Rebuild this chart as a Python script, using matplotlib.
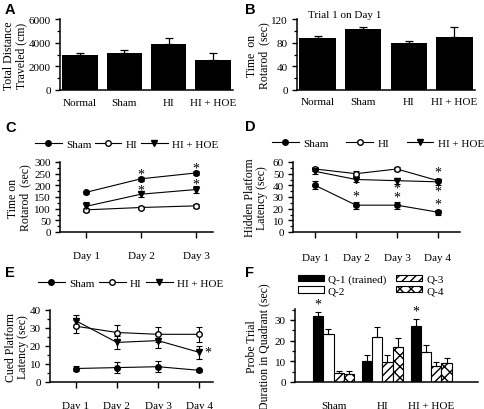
import matplotlib
matplotlib.use('Agg')
import matplotlib.pyplot as plt
from matplotlib.ticker import MultipleLocator
from matplotlib.lines import Line2D
import numpy as np

plt.rcParams['font.family'] = ['Liberation Serif', 'DejaVu Serif']
plt.rcParams['font.size'] = 8

# ---- data ----
groups_ab = ['Normal', 'Sham', 'HI', 'HI + HOE']
dist_mean = [3000, 3150, 3900, 2550]
dist_err = [100, 200, 500, 550]
trial1_mean = [88, 103, 79, 90]
trial1_err = [3, 3, 4, 17]

days3 = ['Day 1', 'Day 2', 'Day 3']
rot_sham = [170, 228, 253]
rot_sham_err = [6, 8, 8]
rot_hi = [95, 105, 112]
rot_hi_err = [8, 6, 8]
rot_hoe = [110, 162, 182]
rot_hoe_err = [20, 10, 15]
rot_star_x = [2, 3, 2, 3]
rot_star_y = [247, 276, 178, 206]

days4 = ['Day 1', 'Day 2', 'Day 3', 'Day 4']
hid_sham = [40, 23, 23, 17]
hid_sham_err = [3.5, 3, 3, 2]
hid_hi = [54, 50, 54, 44]
hid_hi_err = [2, 2, 1.5, 1.5]
hid_hoe = [52, 45, 44, 43]
hid_hoe_err = [2, 2.5, 2.5, 2.5]
hid_star_x = [2, 3, 3, 4, 4, 4]
hid_star_y = [31, 30, 37.5, 51.5, 35, 24]

cue_sham = [7.5, 8, 8.5, 6.5]
cue_sham_err = [1.5, 3, 3, 1]
cue_hi = [31, 27.5, 26.5, 26.5]
cue_hi_err = [3.5, 4, 4, 4]
cue_hoe = [34, 22, 23, 16.5]
cue_hoe_err = [3.5, 3.5, 4, 3.5]
cue_star_x = [4.12]
cue_star_y = [16.5]

groups_f = ['Sham', 'HI', 'HI + HOE']
quad_labels = ['Q-1 (trained)', 'Q-2', 'Q-3', 'Q-4']
quad_mean = [[32, 10, 27], [23, 22, 14.5], [4.5, 9.5, 7.5], [4, 17, 9]]
quad_err = [[2, 3, 3.5], [2.5, 4.5, 3.5], [1, 3.5, 2], [1.5, 4.5, 2.5]]
quad_star_x = [0, 2]
quad_star_y = [37.5, 34.5]

W, H = 484, 410
fig = plt.figure(figsize=(W / 100, H / 100), dpi=100)


def box(l, t, r, b):
    return [l / W, 1 - b / H, (r - l) / W, (b - t) / H]


def style(ax, ylab, lab_px, left_px, width_px):
    # lab_px = right edge of the two-line y label, in pixels
    for s in ['top', 'right']:
        ax.spines[s].set_visible(False)
    for s in ['left', 'bottom']:
        ax.spines[s].set_linewidth(1.1)
    ax.tick_params(axis='y', which='major', length=3.5, width=1.0, pad=3)
    ax.tick_params(axis='y', which='minor', length=2, width=0.9)
    ax.tick_params(axis='x', length=4, width=1.0)
    ax.set_ylabel(ylab, fontsize=8.5, linespacing=1.05)
    ax.yaxis.set_label_coords((lab_px - left_px) / width_px, 0.5)


def bar_panel(ax, means, errs, ylim, major, minor):
    x = np.arange(len(means))
    ax.bar(x, means, width=0.8, color='black')
    ax.errorbar(x, means, yerr=[np.zeros(len(errs)), errs], fmt='none',
                ecolor='black', elinewidth=0.9, capsize=3, capthick=0.9)
    ax.set_xlim(-0.45, len(means) - 0.55)
    ax.set_ylim(*ylim)
    ax.yaxis.set_major_locator(MultipleLocator(major))
    ax.yaxis.set_minor_locator(MultipleLocator(minor))
    ax.set_xticks(x)
    ax.set_xticklabels(groups_ab)


def line_panel(ax, series, labels_x):
    x = np.arange(1, len(labels_x) + 1)
    for (m, e, face, mk) in series:
        ax.errorbar(x, m, yerr=e, color='black', marker=mk, markersize=4,
                    markerfacecolor=face, markeredgecolor='black', lw=0.8,
                    elinewidth=0.8, capsize=2.5, capthick=0.8)
    ax.set_xticks(x)
    ax.set_xticklabels(labels_x)


def legend_handles():
    return [Line2D([], [], color='black', lw=0.8, marker='o', markersize=4,
                   markerfacecolor='black'),
            Line2D([], [], color='black', lw=0.8, marker='o', markersize=4,
                   markerfacecolor='white'),
            Line2D([], [], color='black', lw=0.8, marker='v', markersize=4,
                   markerfacecolor='black')]


line_names = ['Sham', 'HI', 'HI + HOE']

# A
axA = fig.add_axes(box(60, 20, 233, 91))
bar_panel(axA, dist_mean, dist_err, (0, 6000), 2000, 1000)
style(axA, 'Total Distance\nTraveled (cm)', 27, 60, 173)
axA.tick_params(axis='x', length=0, pad=6)

# B
axB = fig.add_axes(box(297, 20, 475, 91))
bar_panel(axB, trial1_mean, trial1_err, (0, 120), 40, 20)
style(axB, 'Time  on\nRotarod  (sec)', 270, 297, 178)
axB.tick_params(axis='x', length=0, pad=5)
axB.text(0.06, 1.07, 'Trial 1 on Day 1', transform=axB.transAxes, va='center')

# C
axC = fig.add_axes(box(60, 163, 213, 233))
line_panel(axC, [(rot_sham, rot_sham_err, 'black', 'o'),
                 (rot_hi, rot_hi_err, 'white', 'o'),
                 (rot_hoe, rot_hoe_err, 'black', 'v')], days3)
axC.set_xlim(0.527, 3.31)
axC.set_ylim(0, 300)
axC.yaxis.set_major_locator(MultipleLocator(50))
axC.yaxis.set_minor_locator(MultipleLocator(25))
style(axC, 'Time on\nRotarod  (sec)', 31, 60, 153)
axC.tick_params(axis='x', pad=10)
for sx, sy in zip(rot_star_x, rot_star_y):
    axC.text(sx, sy, '*', ha='center', va='center', fontsize=10)

# D
axD = fig.add_axes(box(293, 163, 460, 233))
line_panel(axD, [(hid_sham, hid_sham_err, 'black', 'o'),
                 (hid_hi, hid_hi_err, 'white', 'o'),
                 (hid_hoe, hid_hoe_err, 'black', 'v')], days4)
axD.set_xlim(0.46, 4.54)
axD.set_ylim(0, 60)
axD.yaxis.set_major_locator(MultipleLocator(10))
axD.yaxis.set_minor_locator(MultipleLocator(5))
style(axD, 'Hidden Platform\nLatency (sec)', 268, 293, 167)
axD.tick_params(axis='x', pad=11)
for sx, sy in zip(hid_star_x, hid_star_y):
    axD.text(sx, sy, '*', ha='center', va='center', fontsize=10)

# E
axE = fig.add_axes(box(50, 311, 213, 383))
line_panel(axE, [(cue_sham, cue_sham_err, 'black', 'o'),
                 (cue_hi, cue_hi_err, 'white', 'o'),
                 (cue_hoe, cue_hoe_err, 'black', 'v')], days4)
axE.set_xlim(0.37, 4.34)
axE.set_ylim(0, 40)
axE.yaxis.set_major_locator(MultipleLocator(10))
axE.yaxis.set_minor_locator(MultipleLocator(5))
style(axE, 'Cued Platform\nLatency (sec)', 29, 50, 163)
axE.tick_params(axis='x', pad=10)
for sx, sy in zip(cue_star_x, cue_star_y):
    axE.text(sx, sy, '*', ha='left', va='center', fontsize=10)

# F
axF = fig.add_axes(box(295, 310, 478, 383))
xg = np.arange(len(groups_f))
bw = 0.21
faces = ['black', 'white', 'white', 'white']
hatches = [None, None, '////', 'xxx']
barsF = []
for i in range(4):
    pos = xg + (i - 1.5) * bw
    b = axF.bar(pos, quad_mean[i], width=bw, color=faces[i], edgecolor='black',
                linewidth=0.8, hatch=hatches[i], label=quad_labels[i])
    barsF.append(b)
    axF.errorbar(pos, quad_mean[i], yerr=[np.zeros(3), quad_err[i]], fmt='none',
                 ecolor='black', elinewidth=0.8, capsize=2.5, capthick=0.8)
axF.set_xlim(-0.79, 2.96)
axF.set_ylim(0, 35.3)
axF.yaxis.set_major_locator(MultipleLocator(10))
axF.yaxis.set_minor_locator(MultipleLocator(5))
axF.set_xticks(xg)
axF.set_xticklabels(groups_f)
style(axF, 'Probe Trial\nDuration in Quadrant (sec)', 270, 295, 183)
axF.tick_params(axis='x', length=0, pad=14)
for sx, sy in zip(quad_star_x, quad_star_y):
    axF.text(sx - 1.5 * bw, sy, '*', ha='center', va='center', fontsize=10, clip_on=False)

# legends
leg_kw = dict(frameon=False, handlelength=2.4, handletextpad=0.4,
              borderpad=0, borderaxespad=0, fontsize=8)
fig.legend(legend_handles(), line_names, ncol=3, loc='center left',
           bbox_to_anchor=(35 / W, 1 - 145 / H), columnspacing=0.3, **leg_kw)
fig.legend(legend_handles(), line_names, ncol=3, loc='center left',
           bbox_to_anchor=(272 / W, 1 - 144 / H), columnspacing=1.6, **leg_kw)
fig.legend(legend_handles(), line_names, ncol=3, loc='center left',
           bbox_to_anchor=(38 / W, 1 - 284 / H), columnspacing=0.4, **leg_kw)
fig.legend(handles=barsF, ncol=2, loc='center left', bbox_to_anchor=(298 / W, 1 - 286 / H),
           frameon=False, handlelength=2.3, handleheight=0.5, handletextpad=0.4,
           columnspacing=0.9, labelspacing=0.2, borderpad=0, borderaxespad=0, fontsize=8)

# panel letters
for lab, px, py in [('A', 5, 10), ('B', 245, 10), ('C', 5, 128), ('D', 245, 127),
                    ('E', 5, 273), ('F', 245, 273)]:
    fig.text(px / W, 1 - py / H, lab, fontsize=10.5, fontweight='bold',
             family='Liberation Sans', va='center', ha='left')

fig.savefig('out.png', dpi=100)
